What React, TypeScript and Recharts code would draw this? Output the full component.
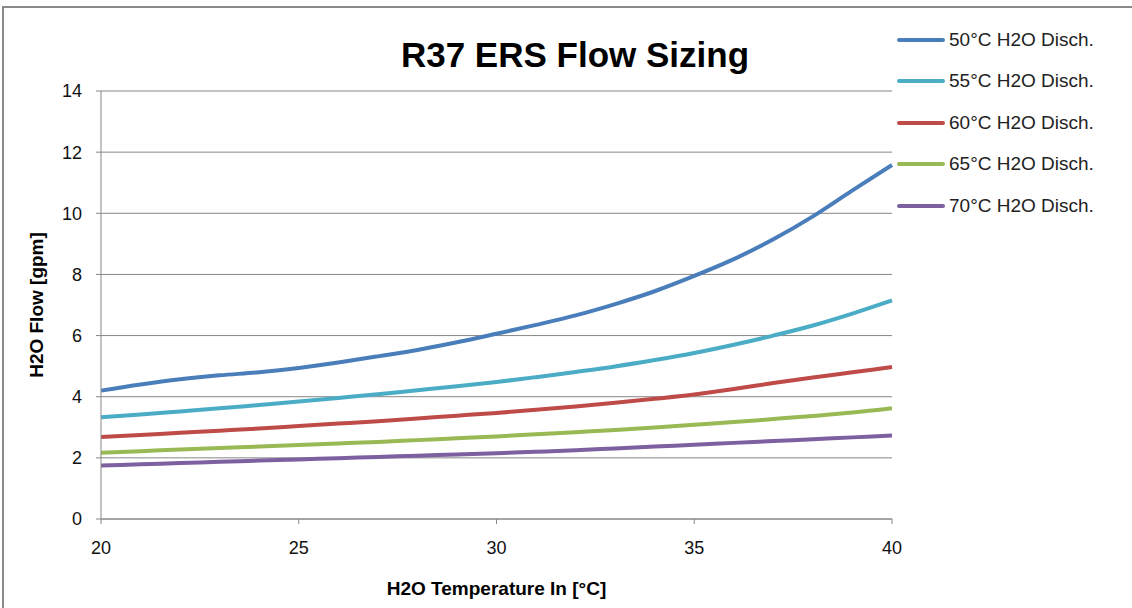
import { LineChart, Line, XAxis, YAxis, CartesianGrid, Label } from 'recharts';

const temps = [20, 21, 22, 23, 24, 25, 26, 27, 28, 29, 30, 31, 32, 33, 34, 35, 36, 37, 38, 39, 40];
const disch50 = [4.2, 4.4, 4.57, 4.7, 4.8, 4.94, 5.12, 5.32, 5.53, 5.78, 6.06, 6.35, 6.66, 7.03, 7.45, 7.95, 8.5, 9.15, 9.9, 10.75, 11.58];
const disch55 = [3.33, 3.42, 3.52, 3.62, 3.73, 3.84, 3.96, 4.08, 4.21, 4.34, 4.48, 4.64, 4.81, 4.99, 5.2, 5.43, 5.7, 6.0, 6.33, 6.72, 7.15];
const disch60 = [2.68, 2.75, 2.82, 2.89, 2.96, 3.04, 3.12, 3.2, 3.29, 3.38, 3.47, 3.57, 3.68, 3.8, 3.93, 4.07, 4.25, 4.45, 4.63, 4.8, 4.97];
const disch65 = [2.17, 2.22, 2.27, 2.32, 2.37, 2.42, 2.47, 2.52, 2.58, 2.64, 2.7, 2.77, 2.84, 2.91, 2.99, 3.08, 3.17, 3.27, 3.37, 3.48, 3.62];
const disch70 = [1.75, 1.79, 1.83, 1.87, 1.91, 1.95, 1.99, 2.03, 2.07, 2.11, 2.15, 2.2, 2.25, 2.31, 2.37, 2.43, 2.49, 2.55, 2.61, 2.67, 2.73];

const xTicks = [20, 25, 30, 35, 40];
const yTicks = [0, 2, 4, 6, 8, 10, 12, 14];

const series = [
  { key: 'd50', name: '50°C H2O Disch.', color: '#4a7ebb' },
  { key: 'd55', name: '55°C H2O Disch.', color: '#4bacc6' },
  { key: 'd60', name: '60°C H2O Disch.', color: '#be4b48' },
  { key: 'd65', name: '65°C H2O Disch.', color: '#98b954' },
  { key: 'd70', name: '70°C H2O Disch.', color: '#7d60a0' },
];

const data = temps.map((t, i) => ({
  t,
  d50: disch50[i],
  d55: disch55[i],
  d60: disch60[i],
  d65: disch65[i],
  d70: disch70[i],
}));

const FONT = '"Liberation Sans", Arial, sans-serif';
const AXIS = '#878787';

// legend drawn as an overlay so it doesn't eat into the plot area
function LegendBox() {
  return (
    <div style={{ position: 'absolute', left: 897, top: 19, fontFamily: FONT }}>
      {series.map((s) => (
        <div key={s.key} style={{ display: 'flex', alignItems: 'center', height: 41.5 }}>
          <div style={{ width: 48, height: 4, background: s.color, borderRadius: 2, marginRight: 4 }} />
          <span style={{ fontSize: 19, color: '#222' }}>{s.name}</span>
        </div>
      ))}
    </div>
  );
}

export default function App() {
  return (
    <div style={{ position: 'absolute', left: 0, top: 0, width: 1132, height: 608, overflow: 'hidden', background: '#fff' }}>
      <div style={{ position: 'absolute', left: 2, top: 6, width: 1200, height: 700, border: '2px solid #8a8a8a' }} />
      <div
        style={{
          position: 'absolute', left: 300, width: 550, top: 35, textAlign: 'center',
          fontFamily: FONT, fontWeight: 'bold', fontSize: 35, color: '#000',
        }}
      >
        R37 ERS Flow Sizing
      </div>
      <LineChart
        width={1132}
        height={608}
        data={data}
        margin={{ top: 91, right: 240, bottom: 49, left: 0 }}
        style={{ position: 'absolute', left: 0, top: 0 }}
      >
        <CartesianGrid vertical={false} stroke={AXIS} strokeWidth={1} />
        <XAxis
          dataKey="t"
          type="number"
          domain={[20, 40]}
          ticks={xTicks}
          height={40}
          stroke={AXIS}
          tickSize={5}
          tickMargin={17}
          tick={{ fontSize: 18, fill: '#111', fontFamily: FONT }}
        >
          <Label
            value="H2O Temperature In [°C]"
            position="bottom"
            offset={23}
            style={{ fontSize: 19, fontWeight: 'bold', fill: '#000', fontFamily: FONT }}
          />
        </XAxis>
        <YAxis
          type="number"
          domain={[0, 14]}
          ticks={yTicks}
          width={101}
          stroke={AXIS}
          tickSize={5}
          tickMargin={14}
          tick={{ fontSize: 18, fill: '#111', fontFamily: FONT }}
        >
          <Label
            value="H2O Flow [gpm]"
            angle={-90}
            position="center"
            dx={-14}
            style={{ fontSize: 19, fontWeight: 'bold', fill: '#000', fontFamily: FONT, textAnchor: 'middle' }}
          />
        </YAxis>
        {series.map((s) => (
          <Line
            key={s.key}
            type="monotone"
            dataKey={s.key}
            name={s.name}
            stroke={s.color}
            strokeWidth={4}
            dot={false}
            activeDot={false}
            isAnimationActive={false}
          />
        ))}
      </LineChart>
      <LegendBox />
    </div>
  );
}
